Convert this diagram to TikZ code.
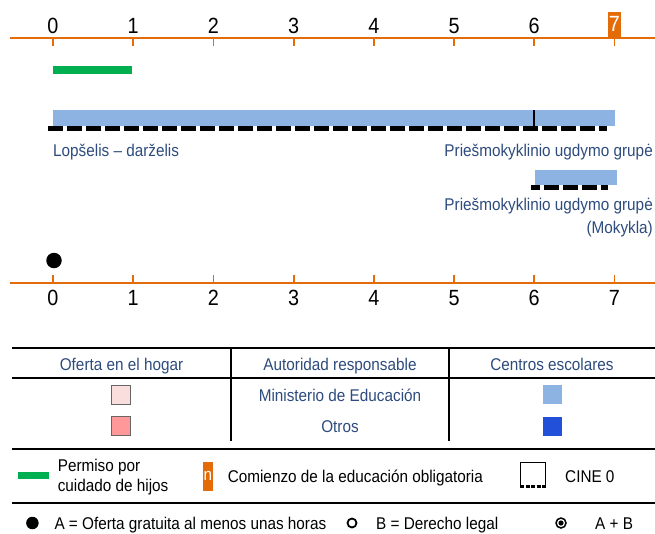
\documentclass[tikz,border=0pt]{standalone}
\usepackage{fontspec}
\setmainfont{Liberation Sans}[FakeStretch=0.9]
\definecolor{naranja}{RGB}{227,108,9}
\definecolor{verdePermiso}{RGB}{0,176,80}
\definecolor{azulClaro}{RGB}{141,179,226}
\definecolor{azulFuerte}{RGB}{35,80,217}
\definecolor{rosaClaro}{RGB}{250,222,222}
\definecolor{rosa}{RGB}{255,153,153}
\definecolor{azulTexto}{RGB}{45,75,125}
\usetikzlibrary{positioning}

\begin{document}
\begin{tikzpicture}[x=1pt,y=-1pt,
        eje/.style={draw=naranja,line width=2pt},
        num/.style={font=\fontsize{22}{22}\selectfont,inner sep=0pt,anchor=base},
        etq/.style={font=\fontsize{17}{17}\selectfont,text=azulTexto,inner sep=0pt},
        ley/.style={font=\fontsize{17}{20}\selectfont,inner sep=0pt,anchor=base west},
        cine/.style={line width=4.5pt,dash pattern=on 15pt off 4pt},
        regla/.style={line width=2pt},
        cuadro/.style={minimum width=19pt,minimum height=19pt,inner sep=0pt}]
        \useasboundingbox (0,0) rectangle (655,533);
        % ejes de edad
        \draw[eje] (10,38) -- (655,38);
        \draw[eje] (10,283) -- (655,283);
        \foreach \i in {0,...,7}{
          \draw[naranja,line width=1.8pt] (53+80.2*\i,38) -- ++(0,8);
          \draw[naranja,line width=1.8pt] (53+80.2*\i,283) -- ++(0,-8);
          \node[num] (b\i) at (53+80.2*\i,305) {\i};
        }
        \foreach \i in {0,...,6}
          \node[num] (a\i) at (53+80.2*\i,33.3) {\i};
        \node[num,anchor=center,fill=naranja,text=white,
              minimum width=13pt,minimum height=25pt] (a7) at (614.4,24.2) {7};
        % barras
        \fill[verdePermiso] (53,66) rectangle (132,74);
        \fill[azulClaro] (53,110) rectangle (615,126);
        \draw[line width=1.2pt] (534,110) -- (534,127);
        \draw[cine] (48,128.5) -- (607,128.5);
        \fill[azulClaro] (535,169.5) rectangle (617,184.5);
        \draw[cine,dash phase=6pt] (531,187.5) -- (608,187.5);
        \node[etq,anchor=base west] (lop) at (53,156) {Lopšelis – darželis};
        \node[etq,anchor=base east] (pri) at (653,156) {Priešmokyklinio ugdymo grupė};
        \node[etq,anchor=base east] (prim) at (653,210) {Priešmokyklinio ugdymo grupė};
        \node[etq,anchor=base east] (mok) at (653,233) {(Mokykla)};
        \node[circle,fill,inner sep=0pt,minimum size=15.5pt] (puntoA) at (54,260.5) {};
        % tabla
        \draw[regla] (12,348) -- (655,348);
        \draw[regla] (12,378) -- (655,378);
        \draw[regla] (231,348) -- (231,441);
        \draw[regla] (449,348) -- (449,441);
        \node[etq,anchor=base] (hogar) at (121.5,370.7) {Oferta en el hogar};
        \node[etq,anchor=base] (autor) at (340,370.7) {Autoridad responsable};
        \node[etq,anchor=base] (centros) at (552,370.7) {Centros escolares};
        \node[etq,anchor=base] (minis) at (340,401) {Ministerio de Educación};
        \node[etq,anchor=base] (otros) at (340,432.7) {Otros};
        \node[cuadro,fill=rosaClaro,draw=gray!80!black,thick] (hMin) at (120.7,394.5) {};
        \node[cuadro,fill=rosa,draw=gray!80!black,thick] (hOtr) at (120.7,426.3) {};
        \node[cuadro,fill=azulClaro] (cMin) at (552.5,394.5) {};
        \node[cuadro,fill=azulFuerte] (cOtr) at (552.5,426.3) {};
        % leyenda
        \draw[regla] (12,448.5) -- (655,448.5);
        \draw[regla] (12,503.3) -- (655,503.3);
        \fill[verdePermiso] (17.5,472) rectangle (49,479);
        \node[ley] (perm1) at (57.6,471.7) {Permiso por};
        \node[ley] (perm2) at (57.6,491.7) {cuidado de hijos};
        \node[fill=naranja,text=white,font=\fontsize{17}{17}\selectfont,inner sep=0pt,
              minimum width=10.5pt,minimum height=29pt] (cajaN) at (207.8,476.2) {n};
        \node[ley] (obl) at (227.6,482) {Comienzo de la educación obligatoria};
        \draw[thin] (520,488) -- (520,462) -- (545,462) -- (545,488);
        \draw[line width=3pt,dash pattern=on 4pt off 1.5pt] (520,486.5) -- (545,486.5);
        \node[ley] (cine0) at (565,482) {CINE 0};
        \node[circle,fill,inner sep=0pt,minimum size=12.5pt] (ptoA) at (32.4,523) {};
        \node[ley] (txtA) at (54.3,529) {A = Oferta gratuita al menos unas horas};
        \node[circle,draw,line width=1.8pt,inner sep=0pt,minimum size=9pt] (ptoB) at (352,523) {};
        \node[ley] (txtB) at (376,529) {B = Derecho legal};
        \node[circle,draw,line width=1.5pt,inner sep=0pt,minimum size=10pt] (ptoAB) at (561,523) {};
        \fill (ptoAB) circle (2.6);
        \node[ley] (txtAB) at (595,529) {A + B};
      \end{tikzpicture}
\end{document}
